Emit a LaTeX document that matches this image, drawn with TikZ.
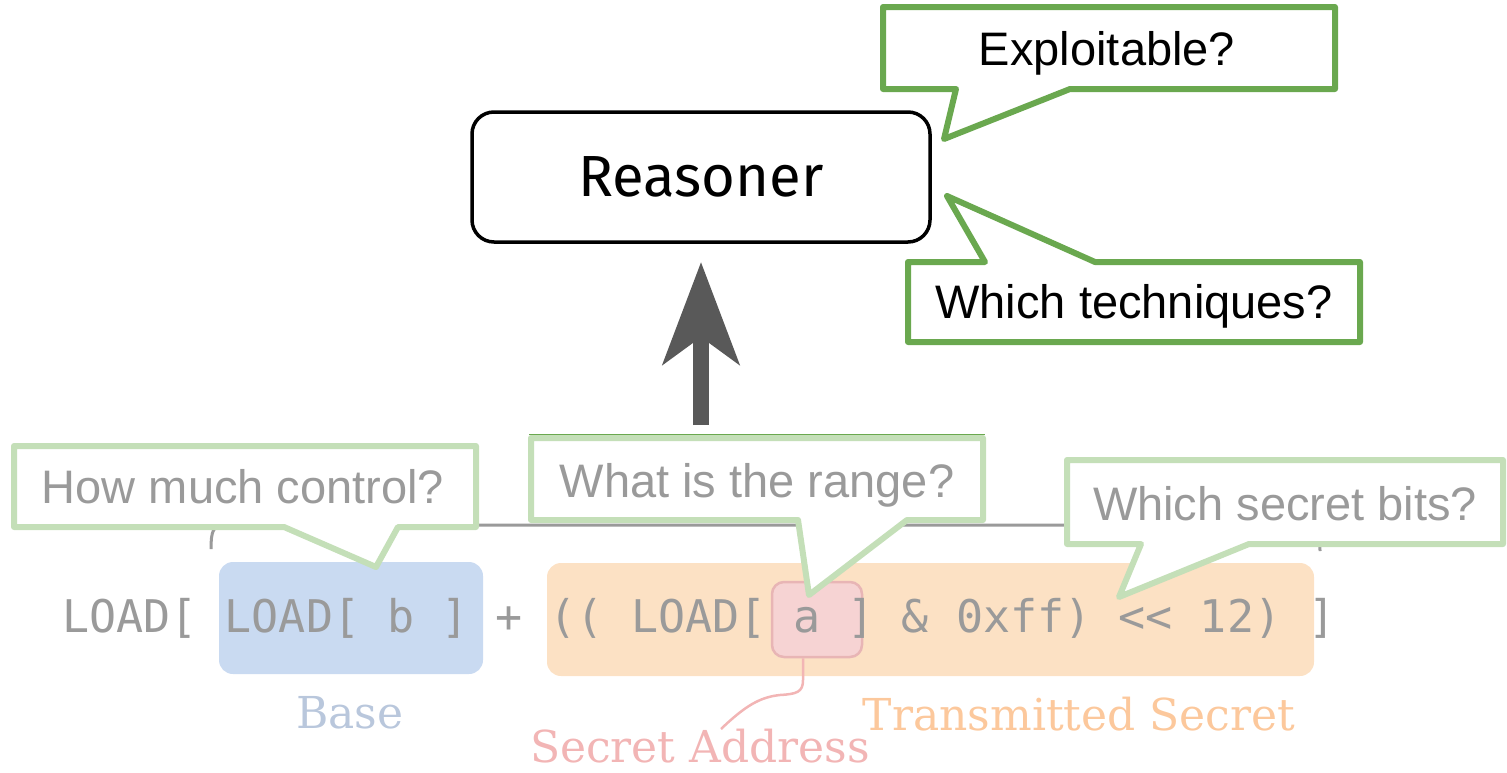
\documentclass[tikz,border=0pt]{standalone}
\usepackage{fontspec}
\setmainfont{Liberation Sans}
\setmonofont{DejaVu Sans Mono}
\newfontfamily\firafont{Fira Sans}
\newfontfamily\serfont{DejaVu Serif}
\usetikzlibrary{arrows.meta}
\definecolor{darkgreen}{HTML}{6AA84F}
\definecolor{lightgreen}{HTML}{C4DFB8}
\definecolor{codegray}{HTML}{9A9A9A}
\definecolor{arrowgray}{HTML}{595959}
\definecolor{hlblue}{HTML}{C9DAF1}
\definecolor{hlorange}{HTML}{FCE1C4}
\definecolor{hlpink}{HTML}{F6D3D3}
\definecolor{pinkedge}{HTML}{E8B5B5}
\definecolor{baselbl}{HTML}{B9C7DC}
\definecolor{translbl}{HTML}{FCC89C}
\definecolor{addrlbl}{HTML}{F2B5B5}
\tikzset{
  darkcall/.style={draw=darkgreen, fill=white, line width=6pt, line join=round},
  lightcall/.style={draw=lightgreen, fill=white, line width=6pt, line join=round},
  calltext/.style={anchor=base, inner sep=0pt, font=\fontsize{47}{56}\selectfont},
  lightcalltext/.style={calltext, text=codegray},
  codetext/.style={anchor=base west, inner sep=0pt, text=codegray, font=\fontsize{45}{54}\selectfont\ttfamily},
  lbltext/.style={anchor=base, inner sep=0pt, font=\fontsize{44}{52}\selectfont\serfont},
  hlbox/.style={rounded corners=14pt},
}
\begin{document}
\begin{tikzpicture}[x=1pt, y=-1pt]
\useasboundingbox (0,0) rectangle (1507,772);

% bracket line over expression
\draw[codegray, line width=3pt] (211,549) .. controls (211,532) and (213,525) .. (224,525) -- (1306,525) .. controls (1316,525) and (1320,532) .. (1320,551);

% highlight boxes
\fill[hlblue, hlbox] (219,562) rectangle (483,674);
\fill[hlorange, hlbox] (547,563) rectangle (1314,676);
\node[draw=pinkedge, fill=hlpink, line width=2.5pt, rounded corners=12pt, minimum width=90pt, minimum height=75pt, inner sep=0pt] (pinkbox) at (817,619.5) {};

% code line
\node[codetext] (code) at (62,632) {LOAD[ LOAD[ b ] + (( LOAD[ a ] \& 0xff) << 12) ]};

% labels
\node[lbltext, text=baselbl] (baselabel) at (350,728) {Base};
\node[lbltext, text=translbl] (translabel) at (1079,730) {Transmitted Secret};
\node[lbltext, text=addrlbl] (addrlabel) at (700,762) {Secret Address};
\coordinate (addrend) at (721,729);
\draw[addrlbl, line width=2.5pt] (pinkbox.south -| 803,0) -- (803,680) .. controls (803,692) and (797,694) .. (780,695) .. controls (760,697) and (745,706) .. (addrend);

% Reasoner
\node[draw=black, line width=3.5pt, rounded corners=22pt, minimum width=458pt, minimum height=130pt, inner sep=0pt, font=\fontsize{58}{66}\selectfont\firafont] (reasoner) at (701,177) {Reasoner};

% arrow
\coordinate (arrS) at (701,425);
\coordinate (arrE) at (701,262);
\draw[arrowgray, line width=16pt, -{Stealth[length=102pt, width=76pt, inset=27pt]}] (arrS) -- (arrE);

% dark callouts
\draw[darkcall] (883,7) -- (1335,7) -- (1335,89) -- (1070,89) -- (944,139) -- (956,89) -- (883,89) -- cycle;
\node[calltext] (exploit) at (1107,65) {Exploitable?};
\draw[darkcall] (908,262) -- (985,262) -- (947,196) -- (1095,262) -- (1360,262) -- (1360,342) -- (908,342) -- cycle;
\node[calltext] (techn) at (1134,318) {Which techniques?};

% light callouts
\draw[lightcall] (14,446) -- (476,446) -- (476,527) -- (398,527) -- (376,567) -- (284,527) -- (14,527) -- cycle;
\node[lightcalltext] (control) at (243,503) {How much control?};
\draw[lightcall] (531,438) -- (983,438) -- (983,520) -- (907,520) -- (809,595) -- (798,520) -- (531,520) -- cycle;
\draw[darkgreen, line width=1.5pt] (529,434.5) -- (985,434.5);
\node[lightcalltext] (range) at (757,497) {What is the range?};
\draw[lightcall] (1067,460) -- (1503,460) -- (1503,544) -- (1249,544) -- (1119,597) -- (1141,544) -- (1067,544) -- cycle;
\node[lightcalltext] (bits) at (1285,520) {Which secret bits?};
\end{tikzpicture}
\end{document}
